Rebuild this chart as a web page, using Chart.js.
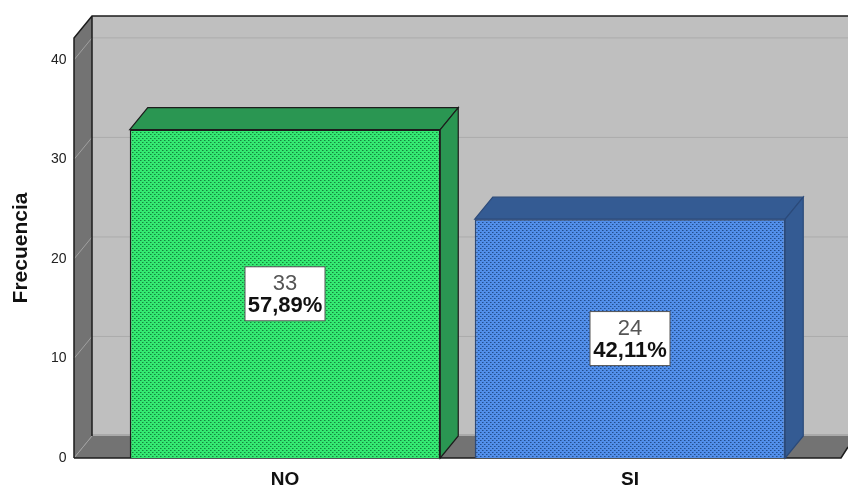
<!DOCTYPE html>
<html>
<head>
<meta charset="utf-8">
<script src="https://cdn.jsdelivr.net/npm/chart.js@4"></script>
<style>
  html, body { margin: 0; padding: 0; background: #fff; }
  #wrap { width: 848px; height: 487px; }
</style>
</head>
<body>
<div id="wrap"><canvas id="chart" width="848" height="487"></canvas></div>
<script>
const categories = ['NO', 'SI'];
const counts = [33, 24];
const percents = ['57,89%', '42,11%'];
const yTicks = [0, 10, 20, 30, 40];
const faceColors = ['#34ea72', '#528fea'];
const dotColors = ['#14843e', '#224c8c'];
const midColors = ['#25b558', '#3a6eba'];
const sideColors = ['#2a9652', '#345b93'];
const edgeColors = ['#1c1c1c', '#2b4a7a'];

// depth of the fake 3D box
const dx = 18, dy = -22;

function dots(face, mid, dot) {
  const c = document.createElement('canvas');
  c.width = 4; c.height = 4;
  const g = c.getContext('2d');
  g.fillStyle = face;
  g.fillRect(0, 0, 4, 4);
  g.fillStyle = mid;
  g.fillRect(1, 0, 1, 1);
  g.fillRect(3, 2, 1, 1);
  g.fillStyle = dot;
  g.fillRect(0, 0, 1, 1);
  g.fillRect(2, 2, 1, 1);
  return g.createPattern(c, 'repeat');
}

function poly(ctx, pts, fill, stroke, lw) {
  ctx.beginPath();
  pts.forEach((p, i) => i ? ctx.lineTo(p[0], p[1]) : ctx.moveTo(p[0], p[1]));
  ctx.closePath();
  if (fill) { ctx.fillStyle = fill; ctx.fill(); }
  if (stroke) { ctx.strokeStyle = stroke; ctx.lineWidth = lw || 1; ctx.stroke(); }
}

const box3d = {
  id: 'box3d',
  beforeDatasetsDraw(chart) {
    const { ctx, scales: { y }, chartArea, width } = chart;
    const bottom = y.getPixelForValue(0);
    const top = chartArea.top;
    const wallL = 74;   // front edge of the side wall
    const floorR = 841;
    ctx.save();
    // back wall
    poly(ctx, [[wallL + dx, top + dy], [width, top + dy], [width, bottom + dy], [wallL + dx, bottom + dy]], '#bfbfbf');
    ctx.fillStyle = '#a9a9a9';
    ctx.fillRect(wallL + dx, bottom + dy - 2, width, 2);
    // side wall and floor
    poly(ctx, [[wallL, top], [wallL + dx, top + dy], [wallL + dx, bottom + dy], [wallL, bottom]], '#737373');
    poly(ctx, [[wallL, bottom], [wallL + dx, bottom + dy], [width, bottom + dy], [width, bottom - 11], [floorR, bottom]], '#737373');
    // grid
    yTicks.forEach(v => {
      const py = y.getPixelForValue(v);
      ctx.strokeStyle = '#acacac';
      ctx.lineWidth = 1;
      ctx.beginPath();
      if (v > 0) {
        ctx.moveTo(wallL + dx, py + dy);
        ctx.lineTo(width, py + dy);
        ctx.stroke();
      }
      ctx.strokeStyle = '#a0a0a0';
      ctx.beginPath();
      ctx.moveTo(wallL, py);
      ctx.lineTo(wallL + dx, py + dy);
      ctx.stroke();
    });
    // frame
    ctx.strokeStyle = '#1c1c1c';
    ctx.lineWidth = 1.5;
    ctx.beginPath();
    ctx.moveTo(wallL, bottom);
    ctx.lineTo(wallL, top);
    ctx.lineTo(wallL + dx, top + dy);
    ctx.lineTo(width, top + dy);
    ctx.moveTo(wallL + dx, top + dy);
    ctx.lineTo(wallL + dx, bottom + dy);
    ctx.moveTo(wallL, bottom);
    ctx.lineTo(floorR, bottom);
    ctx.lineTo(width, bottom - 11);
    ctx.stroke();
    // bar sides
    chart.getDatasetMeta(0).data.forEach((bar, i) => {
      const l = bar.x - bar.width / 2, r = bar.x + bar.width / 2;
      poly(ctx, [[l, bar.y], [l + dx, bar.y + dy], [r + dx, bar.y + dy], [r, bar.y]], sideColors[i], edgeColors[i], 1.2);
      poly(ctx, [[r, bar.y], [r + dx, bar.y + dy], [r + dx, bottom + dy], [r, bottom]], sideColors[i], edgeColors[i], 1.2);
    });
    ctx.restore();
  },
  afterDatasetsDraw(chart) {
    const { ctx, scales: { y } } = chart;
    ctx.save();
    ctx.textAlign = 'center';
    ctx.textBaseline = 'middle';
    chart.getDatasetMeta(0).data.forEach((bar, i) => {
      const cy = (bar.y + y.getPixelForValue(0)) / 2;
      ctx.fillStyle = '#fff';
      ctx.strokeStyle = '#555';
      ctx.lineWidth = 1;
      ctx.fillRect(bar.x - 40, cy - 27, 80, 54);
      ctx.strokeRect(bar.x - 40, cy - 27, 80, 54);
      ctx.fillStyle = '#555';
      ctx.font = '22px "Liberation Sans"';
      ctx.fillText(String(counts[i]), bar.x, cy - 10);
      ctx.fillStyle = '#111';
      ctx.font = 'bold 22px "Liberation Sans"';
      ctx.fillText(percents[i], bar.x, cy + 12);
    });
    ctx.restore();
  }
};

new Chart(document.getElementById('chart'), {
  type: 'bar',
  data: {
    labels: categories,
    datasets: [{
      data: counts,
      backgroundColor: faceColors.map((c, i) => dots(c, midColors[i], dotColors[i])),
      borderColor: edgeColors,
      borderWidth: 1.5,
      barPercentage: 0.9,
      categoryPercentage: 1
    }]
  },
  options: {
    responsive: false,
    maintainAspectRatio: false,
    animation: false,
    layout: { padding: { top: 38, right: 45.5, bottom: 0, left: 0 } },
    plugins: { legend: { display: false }, tooltip: { enabled: false } },
    scales: {
      x: {
        grid: { display: false },
        border: { display: false },
        ticks: {
          color: '#111',
          padding: 2,
          maxRotation: 0,
          font: { family: 'Liberation Sans', size: 19, weight: 'bold' }
        },
        afterFit(scale) { scale.height = 29; }
      },
      y: {
        min: 0,
        max: 42.2,
        grid: { display: false },
        border: { display: false },
        afterBuildTicks(scale) { scale.ticks = yTicks.map(v => ({ value: v })); },
        afterFit(scale) {
          scale.width = 112.5;
          scale.paddingTop = 0;
          scale.paddingBottom = 0;
        },
        title: {
          display: true,
          text: 'Frecuencia',
          color: '#111',
          padding: { top: 9, bottom: 0 },
          font: { family: 'Liberation Sans', size: 21, weight: 'bold' }
        },
        ticks: {
          color: '#222',
          padding: 38,
          font: { family: 'Liberation Sans', size: 14 }
        }
      }
    }
  },
  plugins: [box3d]
});
</script>
</body>
</html>
